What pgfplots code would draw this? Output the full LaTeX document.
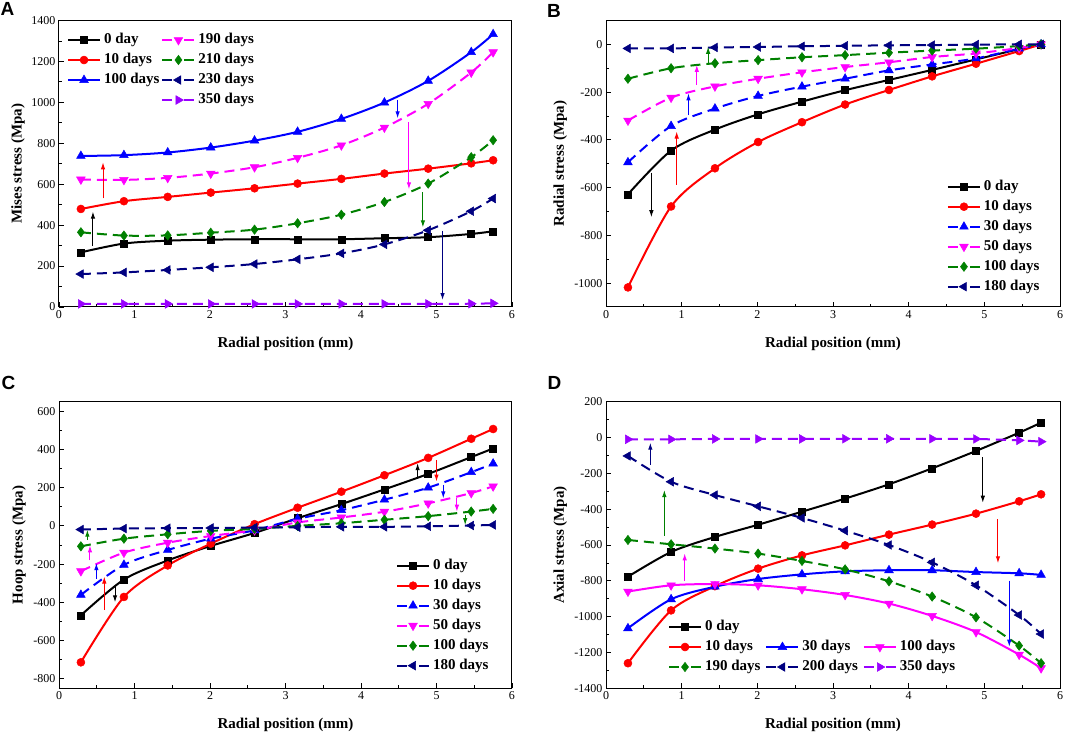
\documentclass[border=0pt]{standalone}
\usepackage{fontspec}
\setmainfont{Liberation Serif}
\newfontfamily\panelfont{Liberation Sans}
\usepackage{pgfplots}
\usepackage{pgfplotstable}
\pgfplotsset{compat=1.18}
\usetikzlibrary{arrows.meta}

\definecolor{cgreen}{RGB}{0,128,0}
\definecolor{cnavy}{RGB}{0,0,128}
\definecolor{cviolet}{RGB}{153,0,255}
\definecolor{cmag}{RGB}{255,0,255}
\definecolor{cred}{RGB}{255,0,0}
\definecolor{cblue}{RGB}{0,0,255}

\pgfplotstableread{
x d0 d10 d100 d190 d210 d230 d350
0.29 267 479 738 623 365 161 15
0.86 310 517 742 621 349 169 15
1.44 324 538 755 631 350 181 15
2.01 329 559 779 652 363 194 15
2.59 331 580 813 683 378 210 15
3.16 331 603 856 729 409 233 15
3.74 331 626 919 790 451 262 15
4.31 336 652 999 877 513 306 15
4.89 341 676 1105 993 603 375 15
5.46 357 702 1245 1146 732 468 16
5.75 370 717 1333 1245 815 530 18
}\tabA

\pgfplotstableread{
x d0 d10 d30 d50 d100 d180
0.29 -628 -1018 -494 -319 -144 -17
0.86 -445 -679 -342 -223 -100 -17
1.44 -357 -519 -269 -176 -79 -13
2.01 -293 -409 -216 -144 -66 -11
2.59 -240 -326 -177 -117 -54 -8
3.16 -192 -252 -144 -95 -45 -6
3.74 -149 -191 -109 -75 -35 -4
4.31 -107 -134 -84 -53 -26 -3
4.89 -63 -81 -59 -38 -18 -1
5.46 -20 -28 -18 -15 -7 0
5.75 0 0 0 0 0 0
}\tabB

\pgfplotstableread{
x d0 d10 d30 d50 d100 d180
0.29 -468 -714 -361 -237 -107 -19
0.86 -281 -372 -204 -140 -67 -14
1.44 -181 -207 -126 -88 -44 -12
2.01 -105 -93 -67 -53 -26 -11
2.59 -37 9 -23 -23 -16 -9
3.16 40 95 37 18 0 -7
3.74 114 179 82 44 14 -5
4.31 191 265 137 74 32 -5
4.89 272 356 200 118 51 -2
5.46 360 456 281 172 75 2
5.75 405 507 326 207 89 5
}\tabC

\pgfplotstableread{
x d0 d10 d30 d100 d190 d200 d350
0.29 -777 -1260 -1065 -860 -572 -103 -10
0.86 -639 -965 -903 -825 -596 -247 -10
1.44 -555 -830 -833 -818 -620 -321 -8
2.01 -487 -732 -790 -825 -648 -384 -8
2.59 -414 -658 -764 -847 -689 -449 -8
3.16 -341 -602 -747 -879 -736 -520 -7
3.74 -261 -542 -741 -927 -803 -600 -7
4.31 -172 -486 -741 -996 -888 -697 -7
4.89 -75 -425 -751 -1086 -1004 -825 -8
5.46 27 -356 -758 -1212 -1162 -991 -16
5.75 83 -317 -767 -1288 -1260 -1097 -23
}\tabD

\tikzset{arr/.style={line width=1pt, -{Latex[length=7pt,width=4.5pt]}}}

\pgfplotsset{
  panel/.style={
    scale only axis, width=453pt, height=286.5pt,
    xmin=0, xmax=6, xtick={0,1,2,3,4,5,6},
    minor x tick num=1, minor y tick num=1,
    tick align=inside, xtick pos=bottom, ytick pos=left,
    major tick length=5pt, minor tick length=3pt,
    tick style={black, line width=0.8pt},
    axis line style={line width=1pt},
    clip=false,
    ticklabel style={font=\fontsize{12}{14}\selectfont},
    /pgf/number format/assume math mode=true,
    /pgf/number format/1000 sep={},
    scaled y ticks=false,
    label style={font=\fontsize{15}{18}\selectfont\bfseries},
    xlabel={Radial position (mm)},
    xlabel style={at={(axis description cs:0.5,0)}, anchor=center, yshift=-37pt},
    legend cell align=left,
    legend style={draw=none, fill=none, inner sep=0pt, outer sep=0pt,
      font=\fontsize{15}{18}\selectfont\bfseries,
      row sep=5pt, column sep=3pt,
      nodes={inner sep=0pt, text height=11pt, text depth=4pt}},
    legend image code/.code={\draw[mark repeat=2,mark phase=2] plot coordinates {(0pt,0pt) (16pt,0pt) (32pt,0pt)};},
    every axis plot/.append style={line width=2pt, smooth},
  },
  dsh/.style={dash pattern=on 10pt off 6pt, legend image post style={dash pattern=on 10pt off 12pt}},
  s0/.style={black, mark=square*, mark size=3.5pt, mark options={solid, line width=0.5pt}},
  s10/.style={cred, mark=*, mark size=4pt, mark options={solid, line width=0.5pt}},
  sblue/.style={cblue, mark=triangle*, mark size=5pt, mark options={solid, line width=0.5pt}},
  smag/.style={cmag, mark=triangle*, mark size=5pt, mark options={solid, rotate=180, line width=0.5pt}},
  sgreen/.style={cgreen, mark=diamond*, mark size=4.7pt, mark options={solid, line width=0.5pt}},
  snavy/.style={cnavy, mark=triangle*, mark size=5pt, mark options={solid, rotate=90, line width=0.5pt}},
  sviolet/.style={cviolet, mark=triangle*, mark size=5pt, mark options={solid, rotate=-90, line width=0.5pt}},
}

\begin{document}
\begin{tikzpicture}[x=1pt,y=1pt]
\useasboundingbox (0,0) rectangle (1079,733);

% ---------------- A ----------------
\begin{axis}[panel, at={(59pt,426pt)}, anchor=south west,
  ymin=0, ymax=1400, ytick={0,200,...,1400},
  ylabel={Mises stress (Mpa)},
  ylabel style={at={(axis description cs:-0.0905,0.5)}, anchor=center},
  legend columns=2,
  legend style={at={(axis description cs:0.0177,0.958)}, anchor=north west,
    /tikz/every even column/.append style={column sep=2pt}},
]
\addplot[s0] table[x=x,y=d0] {\tabA}; \addlegendentry{0 day}
\addplot[smag,dsh] table[x=x,y=d190] {\tabA}; \addlegendentry{190 days}
\addplot[s10] table[x=x,y=d10] {\tabA}; \addlegendentry{10 days}
\addplot[sgreen,dsh] table[x=x,y=d210] {\tabA}; \addlegendentry{210 days}
\addplot[sblue] table[x=x,y=d100] {\tabA}; \addlegendentry{100 days}
\addplot[snavy,dsh] table[x=x,y=d230] {\tabA}; \addlegendentry{230 days}
\addlegendimage{empty legend}\addlegendentry{}
\addplot[sviolet,dsh] table[x=x,y=d350] {\tabA}; \addlegendentry{350 days}
\draw[arr,black] (axis cs:0.45,298) -- (axis cs:0.45,466);
\draw[arr,cred] (axis cs:0.583,531) -- (axis cs:0.583,707);
\draw[arr,cblue] (axis cs:4.485,1012) -- (axis cs:4.485,922);
\draw[arr,cmag] (axis cs:4.635,904) -- (axis cs:4.635,575);
\draw[arr,cgreen] (axis cs:4.82,561) -- (axis cs:4.82,389);
\draw[arr,cnavy] (axis cs:5.08,373) -- (axis cs:5.08,34);
\end{axis}

% ---------------- B ----------------
\begin{axis}[panel, width=454pt, at={(606pt,426pt)}, anchor=south west,
  ymin=-1100, ymax=100, ytick={-1000,-800,...,0},
  ylabel={Radial stress (Mpa)},
  ylabel style={at={(axis description cs:-0.101,0.5)}, anchor=center},
  legend style={at={(axis description cs:0.751,0.446)}, anchor=north west},
]
\addplot[s0] table[x=x,y=d0] {\tabB}; \addlegendentry{0 day}
\addplot[s10] table[x=x,y=d10] {\tabB}; \addlegendentry{10 days}
\addplot[sblue,dsh] table[x=x,y=d30] {\tabB}; \addlegendentry{30 days}
\addplot[smag,dsh] table[x=x,y=d50] {\tabB}; \addlegendentry{50 days}
\addplot[sgreen,dsh] table[x=x,y=d100] {\tabB}; \addlegendentry{100 days}
\addplot[snavy,dsh] table[x=x,y=d180] {\tabB}; \addlegendentry{180 days}
\draw[arr,black] (axis cs:0.60,-537) -- (axis cs:0.60,-724);
\draw[arr,cred] (axis cs:0.934,-589) -- (axis cs:0.934,-365);
\draw[arr,cblue] (axis cs:1.09,-296) -- (axis cs:1.09,-205);
\draw[arr,cmag] (axis cs:1.20,-170) -- (axis cs:1.20,-86);
\draw[arr,cgreen] (axis cs:1.35,-80) -- (axis cs:1.35,-10);
\end{axis}

% ---------------- C ----------------
\begin{axis}[panel, height=286.6pt, at={(59pt,44.7pt)}, anchor=south west,
  ymin=-850, ymax=650, ytick={-800,-600,...,600},
  ylabel={Hoop stress (Mpa)},
  ylabel style={at={(axis description cs:-0.088,0.5)}, anchor=center},
  legend style={at={(axis description cs:0.744,0.454)}, anchor=north west},
]
\addplot[s0] table[x=x,y=d0] {\tabC}; \addlegendentry{0 day}
\addplot[s10] table[x=x,y=d10] {\tabC}; \addlegendentry{10 days}
\addplot[sblue,dsh] table[x=x,y=d30] {\tabC}; \addlegendentry{30 days}
\addplot[smag,dsh] table[x=x,y=d50] {\tabC}; \addlegendentry{50 days}
\addplot[sgreen,dsh] table[x=x,y=d100] {\tabC}; \addlegendentry{100 days}
\addplot[snavy,dsh] table[x=x,y=d180] {\tabC}; \addlegendentry{180 days}
\draw[arr,black] (axis cs:0.742,-321) -- (axis cs:0.742,-400);
\draw[arr,cred] (axis cs:0.60,-440) -- (axis cs:0.60,-265);
\draw[arr,cblue] (axis cs:0.495,-277) -- (axis cs:0.495,-195);
\draw[arr,cmag] (axis cs:0.41,-181) -- (axis cs:0.41,-102);
\draw[arr,cgreen] (axis cs:0.376,-75) -- (axis cs:0.376,-20);
\draw[arr,black] (axis cs:4.75,258) -- (axis cs:4.75,328);
\draw[arr,cred] (axis cs:5.0,346) -- (axis cs:5.0,232);
\draw[arr,cblue] (axis cs:5.09,214) -- (axis cs:5.09,144);
\draw[arr,cmag] (axis cs:5.27,144) -- (axis cs:5.27,74);
\draw[arr,cgreen] (axis cs:5.38,56) -- (axis cs:5.38,4);
\end{axis}

% ---------------- D ----------------
\begin{axis}[panel, width=454pt, height=286.6pt, at={(606pt,44.7pt)}, anchor=south west,
  ymin=-1400, ymax=200, ytick={-1400,-1200,...,200},
  ylabel={Axial stress (Mpa)},
  ylabel style={at={(axis description cs:-0.101,0.5)}, anchor=center},
  legend columns=3,
  legend style={at={(axis description cs:0.1366,0.240)}, anchor=north west,
    /tikz/every even column/.append style={column sep=5pt}},
]
\addplot[s0] table[x=x,y=d0] {\tabD}; \addlegendentry{0 day}
\addlegendimage{empty legend}\addlegendentry{}
\addlegendimage{empty legend}\addlegendentry{}
\addplot[s10] table[x=x,y=d10] {\tabD}; \addlegendentry{10 days}
\addplot[sblue] table[x=x,y=d30] {\tabD}; \addlegendentry{30 days}
\addplot[smag] table[x=x,y=d100] {\tabD}; \addlegendentry{100 days}
\addplot[sgreen,dsh] table[x=x,y=d190] {\tabD}; \addlegendentry{190 days}
\addplot[snavy,dsh] table[x=x,y=d200] {\tabD}; \addlegendentry{200 days}
\addplot[sviolet,dsh] table[x=x,y=d350] {\tabD}; \addlegendentry{350 days}
\draw[arr,cnavy] (axis cs:0.586,-153) -- (axis cs:0.586,-29);
\draw[arr,cgreen] (axis cs:0.771,-548) -- (axis cs:0.771,-293);
\draw[arr,cmag] (axis cs:1.04,-799) -- (axis cs:1.04,-647);
\draw[arr,black] (axis cs:4.98,-111) -- (axis cs:4.98,-364);
\draw[arr,cred] (axis cs:5.18,-455) -- (axis cs:5.18,-702);
\draw[arr,cblue] (axis cs:5.33,-799) -- (axis cs:5.33,-1168);
\end{axis}

\node[inner sep=0pt, font=\panelfont\bfseries\fontsize{19}{21}\selectfont] at (7.5,724) {A};
\node[inner sep=0pt, font=\panelfont\bfseries\fontsize{19}{21}\selectfont] at (554,722.5) {B};
\node[inner sep=0pt, font=\panelfont\bfseries\fontsize{19}{21}\selectfont] at (8.5,350) {C};
\node[inner sep=0pt, font=\panelfont\bfseries\fontsize{19}{21}\selectfont] at (554.5,350.5) {D};
\end{tikzpicture}
\end{document}
